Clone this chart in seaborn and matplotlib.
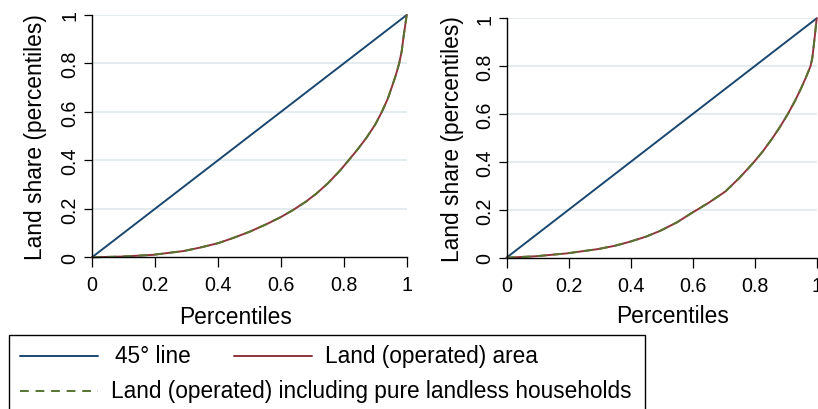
import matplotlib
matplotlib.use("Agg")
import matplotlib.pyplot as plt
from matplotlib.lines import Line2D
from matplotlib.patches import Rectangle
import seaborn as sns
import pandas as pd

# 45-degree reference line
diag_x = [0.0, 1.0]
diag_y = [0.0, 1.0]

# Panel 1: Lorenz curve of operated land
p1_pct = [0.0, 0.093, 0.193, 0.292, 0.343, 0.40, 0.449, 0.50, 0.555, 0.60,
          0.64, 0.68, 0.714, 0.75, 0.788, 0.814, 0.845, 0.873, 0.90, 0.921,
          0.94, 0.952, 0.965, 0.976, 0.984, 0.990, 0.995, 1.0]
p1_area = [0.0, 0.003, 0.010, 0.026, 0.040, 0.058, 0.080, 0.105, 0.137, 0.166,
           0.196, 0.230, 0.264, 0.306, 0.358, 0.398, 0.447, 0.495, 0.548, 0.600,
           0.655, 0.700, 0.750, 0.800, 0.850, 0.910, 0.955, 1.0]
p1_landless = [0.0, 0.003, 0.010, 0.026, 0.040, 0.058, 0.080, 0.105, 0.137, 0.166,
               0.196, 0.230, 0.264, 0.306, 0.358, 0.398, 0.447, 0.495, 0.548, 0.600,
               0.655, 0.700, 0.750, 0.800, 0.850, 0.910, 0.955, 1.0]

# Panel 2: Lorenz curve of operated land
p2_pct = [0.0, 0.094, 0.194, 0.295, 0.35, 0.396, 0.45, 0.495, 0.55, 0.595,
          0.65, 0.705, 0.75, 0.794, 0.825, 0.855, 0.88, 0.906, 0.93, 0.947,
          0.965, 0.980, 0.986, 0.993, 1.0]
p2_area = [0.0, 0.006, 0.018, 0.036, 0.050, 0.066, 0.088, 0.112, 0.148, 0.185,
           0.228, 0.276, 0.332, 0.394, 0.442, 0.495, 0.543, 0.598, 0.655, 0.700,
           0.752, 0.800, 0.835, 0.915, 1.0]
p2_landless = [0.0, 0.006, 0.018, 0.036, 0.050, 0.066, 0.088, 0.112, 0.148, 0.185,
               0.228, 0.276, 0.332, 0.394, 0.442, 0.495, 0.543, 0.598, 0.655, 0.700,
               0.752, 0.800, 0.835, 0.915, 1.0]

ticks = [0, 0.2, 0.4, 0.6, 0.8, 1]
tick_labels = ["0", "0.2", "0.4", "0.6", "0.8", "1"]
legend_labels = ["45° line", "Land (operated) area",
                 "Land (operated) including pure landless households"]

NAVY = "#1a476f"
MAROON = "#90353b"
GREEN = "#55752f"
GRID = "#e3ebee"

sns.set_theme(style="white")
plt.rcParams["font.family"] = ["Liberation Sans", "DejaVu Sans"]
plt.rcParams["text.color"] = "black"
plt.rcParams["axes.labelcolor"] = "black"
plt.rcParams["xtick.color"] = "black"
plt.rcParams["ytick.color"] = "black"

W, H = 818, 410
fig = plt.figure(figsize=(W / 100, H / 100), dpi=100)


def px_axes(left, top, right, bottom):
    return fig.add_axes([left / W, 1 - bottom / H, (right - left) / W, (bottom - top) / H])


panels = [
    (px_axes(92, 16, 406.7, 258.3), p1_pct, p1_area, p1_landless, 0.457, -0.181),
    (px_axes(506.5, 19.3, 816.7, 258.7), p2_pct, p2_area, p2_landless, 0.534, -0.174),
]

for ax, pct, area, landless, xlab_x, ylab_x in panels:
    df = pd.DataFrame({"pct": pct, "area": area, "landless": landless})
    sns.lineplot(x=diag_x, y=diag_y, ax=ax, color=NAVY, lw=1.4, estimator=None, sort=False)
    sns.lineplot(data=df, x="pct", y="area", ax=ax, color=MAROON, lw=1.4,
                 estimator=None, sort=False)
    sns.lineplot(data=df, x="pct", y="landless", ax=ax, color=GREEN, lw=1.4,
                 estimator=None, sort=False)
    ax.lines[-1].set_dashes((4.5, 3.5))
    for ln in ax.lines:
        ln.set_solid_joinstyle("round")
        ln.set_dash_joinstyle("round")
        ln.set_clip_on(False)

    ax.set_xlim(0, 1)
    ax.set_ylim(0, 1)
    ax.set_xticks(ticks)
    ax.set_xticklabels(tick_labels)
    ax.set_yticks(ticks)
    ax.set_yticklabels(tick_labels)
    for y in ticks[1:]:
        ax.axhline(y, color=GRID, lw=1.3, zorder=0)

    for s in ["top", "right"]:
        ax.spines[s].set_visible(False)
    for s in ["left", "bottom"]:
        ax.spines[s].set_color("black")
        ax.spines[s].set_linewidth(1.0)

    ax.tick_params(axis="x", direction="out", length=7, width=0.9, color="black",
                   labelsize=14.2, pad=6, bottom=True, labelcolor="black")
    ax.tick_params(axis="y", direction="out", length=6, width=0.9, color="black",
                   labelsize=14.2, pad=3, left=True, labelrotation=90, labelcolor="black")
    for lab in ax.get_yticklabels():
        lab.set_va("center")

    ax.set_xlabel("Percentiles", fontsize=16.4, color="black")
    ax.set_ylabel("Land share (percentiles)", fontsize=16.4, color="black")
    ax.xaxis.set_label_coords(xlab_x, -0.243)
    ax.xaxis.label.set_va("center")
    ax.yaxis.set_label_coords(ylab_x, 0.5)
    ax.yaxis.label.set_va("center")
    ax.set_facecolor("white")

# Legend box drawn below both panels
frame = Rectangle((9 / W, (H - 420) / H), (645 - 9) / W, (420 - 336) / H,
                  transform=fig.transFigure, fill=False, edgecolor="black", lw=1.0)
fig.add_artist(frame)

keys = [
    (20, 98, 357, NAVY, "-", 115, legend_labels[0]),
    (234, 312, 357, MAROON, "-", 325, legend_labels[1]),
    (20, 98, 392, GREEN, "--", 111, legend_labels[2]),
]
for x0, x1, yk, col, ls, xt, text in keys:
    ln = Line2D([x0 / W, x1 / W], [1 - yk / H, 1 - yk / H], transform=fig.transFigure,
                color=col, lw=1.4, linestyle=ls)
    if ls == "--":
        ln.set_dashes((4.5, 3.5))
    fig.add_artist(ln)
    fig.text(xt / W, 1 - yk / H, text, fontsize=16.3, va="center", ha="left", color="black")

fig.savefig("out.png", dpi=100, facecolor="white")
